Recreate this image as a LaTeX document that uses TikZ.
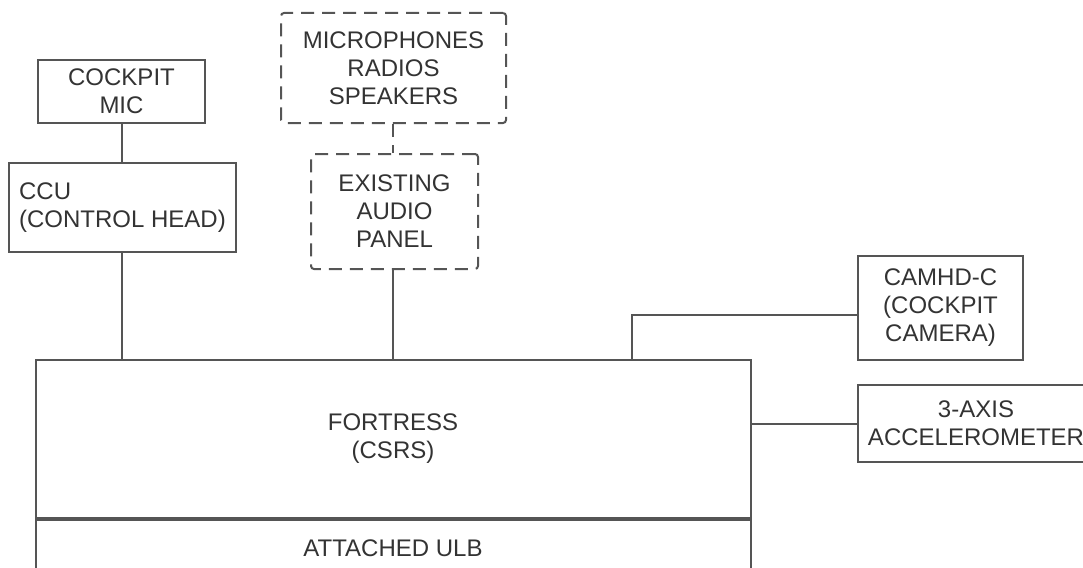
\documentclass[tikz,border=0pt]{standalone}
\usepackage{fontspec}
\setmainfont{Liberation Sans}
\usepackage{xcolor}
\usepackage{tikz}
\usetikzlibrary{positioning, calc}
\definecolor{linegray}{HTML}{555555}
\definecolor{textgray}{HTML}{333333}
\tikzset{
  ubox/.style  = {rectangle, draw=linegray, line width=2pt, align=center,
                  text=textgray, inner sep=0pt,
                  font=\fontsize{24}{28}\selectfont},
  dbox/.style  = {ubox, rounded corners=3pt, dash pattern=on 13pt off 8pt},
  conn/.style  = {draw=linegray, line width=2pt},
}
\begin{document}
\begin{tikzpicture}[x=1pt, y=-1pt]
  \clip (0,0) rectangle (1083,567);
  % left branch
  \node[ubox, minimum width=167, minimum height=63] (mic) at (121.5,91.5)
    {COCKPIT\\MIC};
  \node[ubox, minimum width=227, minimum height=89, align=left]
    (ccu) at (122.5,207.5) {CCU\\(CONTROL HEAD)};
  % audio branch
  \node[dbox, minimum width=225, minimum height=110] (sources) at (393.5,68)
    {MICROPHONES\\RADIOS\\SPEAKERS};
  \node[dbox, minimum width=167, minimum height=115] (audio) at (394.5,211.5)
    {EXISTING\\AUDIO\\PANEL};
  % main unit
  \node[ubox, minimum width=715, minimum height=158] (fortress) at (393,439)
    {FORTRESS\\(CSRS)};
  \node[ubox, minimum width=715, minimum height=56, anchor=north]
    (ulb) at (fortress.south) {ATTACHED ULB};
  % right side
  \node[ubox, minimum width=165, minimum height=104] (camera) at (940.5,308)
    {CAMHD-C\\(COCKPIT\\CAMERA)};
  \node[ubox, minimum width=236, minimum height=77] (accel) at (976,423.5)
    {3-AXIS\\ACCELEROMETER};
  \coordinate (camx) at (632,360);

  \draw[conn] (mic.south) -- (ccu.north -| mic.south);
  \draw[conn] (ccu.south -| mic.south) -- (fortress.north -| mic.south);
  \draw[conn, dash pattern=on 13pt off 8pt] (sources.south -| 393,0)
    -- (audio.north -| 393,0);
  \draw[conn] (audio.south -| 393,0) -- (fortress.north -| 393,0);
  \draw[conn] (camx) |- ([yshift=-7pt]camera.west);
  \draw[conn] (accel.west -| fortress.east) -- (accel.west);
\end{tikzpicture}
\end{document}
